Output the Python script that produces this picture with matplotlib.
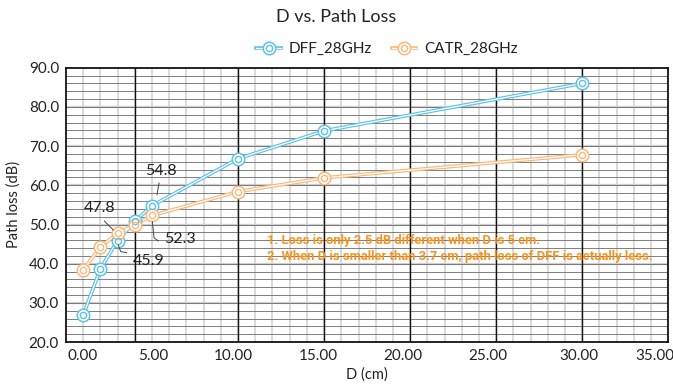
import numpy as np
import matplotlib
matplotlib.use('Agg')
import matplotlib.pyplot as plt
from matplotlib.lines import Line2D
from matplotlib.legend_handler import HandlerTuple

# ── data ─────────────────────────────────────────────────────────────────────
D_cm     = [1, 2, 3, 4, 5, 10, 15, 30]
dff_28   = [26.8, 38.7, 45.9, 50.8, 54.8, 66.8, 73.9, 86.0]
catr_28  = [38.4, 44.2, 47.8, 49.9, 52.3, 58.4, 61.9, 67.8]

xtick_pos = [0.95, 5.05, 9.7, 14.65, 19.6, 24.5, 29.8, 34.2]
xtick_lbl = ['0.00', '5.00', '10.00', '15.00', '20.00', '25.00', '30.00', '35.00']
ytick_val = [20, 30, 40, 50, 60, 70, 80, 90]

BLUE   = '#5cc3ea'
ORANGE = '#fbb878'
NOTE   = '#f7941d'
TXT    = '#222222'

plt.rcParams['font.family'] = ['Lato', 'DejaVu Sans']

fig = plt.figure(figsize=(6.73, 3.87), dpi=100)
ax = fig.add_axes([0.098, 0.116, 0.895, 0.709])
ax.set_xlim(0, 35)
ax.set_ylim(20, 90)

# grid
ax.vlines(np.arange(1, 35), 20, 90, color='#cfcfcf', lw=1.1, zorder=1)
ax.hlines(np.arange(22, 90, 2), 0, 35, color='#6a6a6a', lw=0.6, zorder=1)
ax.hlines(np.arange(30, 90, 10), 0, 35, color='#cfcfcf', lw=1.6, zorder=0.9)
ax.vlines([4, 10, 15, 20, 25, 30], 20, 90, color='#111111', lw=1.0, zorder=1.5)

def dbl_series(x, y, col):
    ax.plot(x, y, color=col, lw=2.6, zorder=3, solid_capstyle='butt')
    ax.plot(x, y, color='white', lw=0.9, zorder=3.1)
    ax.plot(x, y, ls='none', marker='o', ms=9, mfc='white', mec=col, mew=1.1, zorder=4)
    ax.plot(x, y, ls='none', marker='o', ms=4.5, mfc='none', mec=col, mew=1.0, zorder=4.1)

dbl_series(D_cm, dff_28, BLUE)
dbl_series(D_cm, catr_28, ORANGE)

def handle(col):
    return (Line2D([], [], color=col, lw=2.6),
            Line2D([], [], color='white', lw=0.9),
            Line2D([], [], ls='none', marker='o', ms=9, mfc='white', mec=col, mew=1.1),
            Line2D([], [], ls='none', marker='o', ms=4.5, mfc='none', mec=col, mew=1.0))

fig.legend([handle(BLUE), handle(ORANGE)], ['DFF_28GHz', 'CATR_28GHz'],
           handler_map={tuple: HandlerTuple(ndivide=1)},
           loc='center', bbox_to_anchor=(0.575, 0.873), ncol=2, frameon=False,
           fontsize=11, handlelength=1.6, columnspacing=1.3, handletextpad=0.5,
           labelcolor=TXT)

# value labels with leader lines
LEAD = dict(color='#444444', lw=0.7, zorder=5)
lbl_kw = dict(fontsize=11.5, color=TXT, ha='center', va='center', zorder=5)
ax.text(5.52, 63.7, '54.8', **lbl_kw)
ax.plot([5.29, 5.41], [57.6, 60.6], **LEAD)
ax.text(1.98, 54.2, '47.8', **lbl_kw)
ax.plot([2.23, 2.75], [50.9, 48.6], **LEAD)
ax.text(6.63, 46.3, '52.3', **lbl_kw)
ax.plot([5.02, 5.12, 5.37], [50.7, 46.6, 45.8], **LEAD)
ax.text(4.83, 40.7, '45.9', **lbl_kw)
ax.plot([3.04, 3.18, 3.53], [44.8, 43.1, 42.8], **LEAD)

ax.text(11.7, 43.9,
        '1. Loss is only 2.5 dB different when D is 5 cm.\n'
        '2. When D is smaller than 3.7 cm, path loss of DFF is actually less.',
        fontsize=9.35, color=NOTE, fontweight='bold', ha='left', va='center',
        linespacing=1.35, zorder=5, family=['Roboto', 'DejaVu Sans'])

ax.set_xticks(xtick_pos)
ax.set_xticklabels(xtick_lbl)
ax.set_yticks(ytick_val)
ax.set_yticklabels([f'{v:.1f}' for v in ytick_val])
ax.tick_params(length=0, labelsize=11, colors=TXT, pad=5)
for s in ax.spines.values():
    s.set_color('#111111')
    s.set_linewidth(1.3)
    s.set_zorder(6)

ax.set_xlabel('D (cm)', fontsize=10.5, color=TXT, labelpad=3)
ax.set_ylabel('Path loss (dB)', fontsize=10.5, color=TXT, labelpad=6)
fig.text(0.5, 0.955, 'D vs. Path Loss', ha='center', va='center', fontsize=13, color=TXT)

fig.savefig('out.png', dpi=100, facecolor='white')
